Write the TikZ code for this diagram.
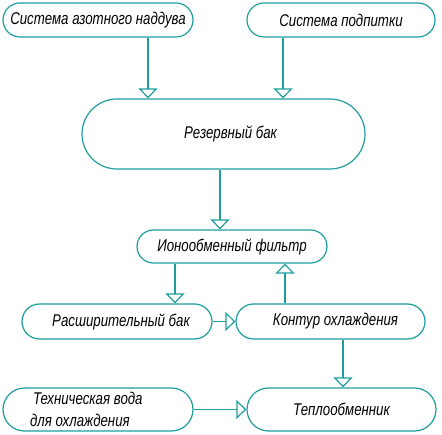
\documentclass[tikz,border=0pt]{standalone}
\usepackage{fontspec}
\newfontfamily\gost[FakeStretch=0.78]{Liberation Sans}
\usetikzlibrary{arrows.meta}
\definecolor{teal1}{HTML}{1F9E9E}
\begin{document}
\begin{tikzpicture}[x=1pt,y=-1pt,
  box/.style={draw=teal1, line width=1.2pt, fill=white, rectangle, inner sep=0pt,
    font=\gost\itshape\fontsize{17}{22}\selectfont},
  arr/.style={draw=teal1, line width=1.2pt, -{Triangle[open, width=19pt, length=10pt, line width=1.2pt]}}]
\useasboundingbox (0,0) rectangle (442,435);
\node[box, minimum width=190pt, minimum height=34pt, rounded corners=17pt] (n1) at (98,20) {Система азотного наддува};
\node[box, minimum width=188pt, minimum height=34pt, rounded corners=17pt] (n2) at (341,20) {Система подпитки};
\node[box, minimum width=283pt, minimum height=70pt, rounded corners=35pt] (res) at (223.5,134) {\hspace*{14pt}Резервный бак};
\node[box, minimum width=190pt, minimum height=33pt, rounded corners=16.5pt] (filt) at (232,246.5) {Ионообменный фильтр};
\node[box, minimum width=190pt, minimum height=35pt, rounded corners=17.5pt] (exp) at (117,321.5) {\hspace*{8pt}Расширительный бак};
\node[box, minimum width=189pt, minimum height=35pt, rounded corners=17.5pt] (cont) at (330.5,321.5) {\hspace*{10pt}Контур охлаждения};
\node[box, minimum width=190pt, minimum height=43pt, rounded corners=21.5pt, text width=136pt, align=flush left] (tech) at (98,409.5) {\hspace*{3pt}Техническая вода\\для охлаждения};
\node[box, minimum width=189pt, minimum height=43pt, rounded corners=21.5pt] (heat) at (341.5,409.5) {Теплообменник};
\coordinate (x1) at (148,0);
\coordinate (x2) at (283,0);
\coordinate (x3) at (220,0);
\coordinate (x4) at (175,0);
\coordinate (x5) at (285,0);
\coordinate (x6) at (343,0);
\draw[arr] (x1 |- n1.south) -- (x1 |- res.north);
\draw[arr] (x2 |- n2.south) -- (x2 |- res.north);
\draw[arr] (x3 |- res.south) -- (x3 |- filt.north);
\draw[arr] (x4 |- filt.south) -- (x4 |- exp.north);
\draw[arr] (x5 |- cont.north) -- (x5 |- filt.south);
\draw[arr] (exp.east) -- (cont.west);
\draw[arr] (x6 |- cont.south) -- (x6 |- heat.north);
\draw[arr] (tech.east) -- (heat.west);
\end{tikzpicture}
\end{document}
